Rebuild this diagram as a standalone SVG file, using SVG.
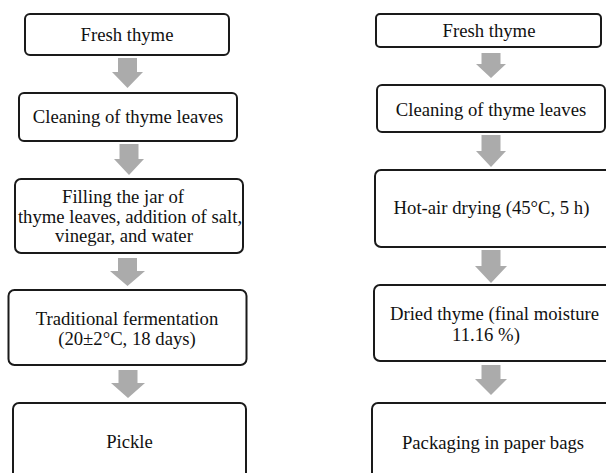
<svg xmlns="http://www.w3.org/2000/svg" width="606" height="473" viewBox="0 0 606 473">
<style>
.box{fill:#fff;stroke:#1a1a1a;stroke-width:2}
.t{font-family:"Liberation Serif","Times New Roman",serif;font-size:18.7px;fill:#111;text-anchor:middle}
.arr{fill:#ababab}
</style>
<rect width="606" height="473" fill="#fff"/>
<g id="connectors">
<path class="arr" d="M118,58 H137 V72 H143 L127.5,88 L112,72 H118 Z"/>
<path class="arr" d="M119.5,144 H138.5 V159 H144 L129,175 L114,159 H119.5 Z"/>
<path class="arr" d="M118,258 H137 V271 H145 L127.5,286 L110,271 H118 Z"/>
<path class="arr" d="M118.5,370 H137.5 V383 H145 L128,398 L111,383 H118.5 Z"/>
<path class="arr" d="M481.5,53 H500.5 V64 H506 L491,78 L476,64 H481.5 Z"/>
<path class="arr" d="M481.5,135 H500.5 V151 H506 L491,167 L476,151 H481.5 Z"/>
<path class="arr" d="M481.5,250 H500.5 V266 H507 L491,283 L475,266 H481.5 Z"/>
<path class="arr" d="M481.5,365 H500.5 V379 H507 L491,395 L475,379 H481.5 Z"/>
</g>
<g id="l1"><rect class="box" x="25" y="14" width="204" height="41" rx="5"/><text class="t" x="127" y="41">Fresh thyme</text></g>
<g id="l2"><rect class="box" x="19" y="93" width="218" height="48" rx="5"/><text class="t" x="128" y="123">Cleaning of thyme leaves</text></g>
<g id="l3"><rect class="box" x="15" y="179" width="228" height="74" rx="6"/><text class="t" x="123" y="203">Filling the jar of</text><text class="t" x="130" y="223">thyme leaves, addition of salt,</text><text class="t" x="124" y="242">vinegar, and water</text></g>
<g id="l4"><rect class="box" x="8.5" y="290" width="238" height="75" rx="6"/><text class="t" x="127" y="325">Traditional fermentation</text><text class="t" x="127" y="345">(20±2°C, 18 days)</text></g>
<g id="l5"><rect class="box" x="13" y="403" width="233" height="90" rx="6"/><text class="t" x="129.5" y="448">Pickle</text></g>
<g id="r1"><rect class="box" x="376" y="14" width="225" height="33" rx="4"/><text class="t" x="489" y="37">Fresh thyme</text></g>
<g id="r2"><rect class="box" x="377" y="85" width="228" height="47" rx="5"/><text class="t" x="491" y="116">Cleaning of thyme leaves</text></g>
<g id="r3"><rect class="box" x="375" y="170" width="240" height="77" rx="6"/><text class="t" x="491.5" y="214">Hot-air drying (45°C, 5 h)</text></g>
<g id="r4"><rect class="box" x="374" y="285" width="240" height="76" rx="6"/><text class="t" x="494.5" y="320">Dried thyme (final moisture</text><text class="t" x="486" y="341">11.16 %)</text></g>
<g id="r5"><rect class="box" x="372" y="403" width="245" height="90" rx="6"/><text class="t" x="493" y="449">Packaging in paper bags</text></g>
</svg>
